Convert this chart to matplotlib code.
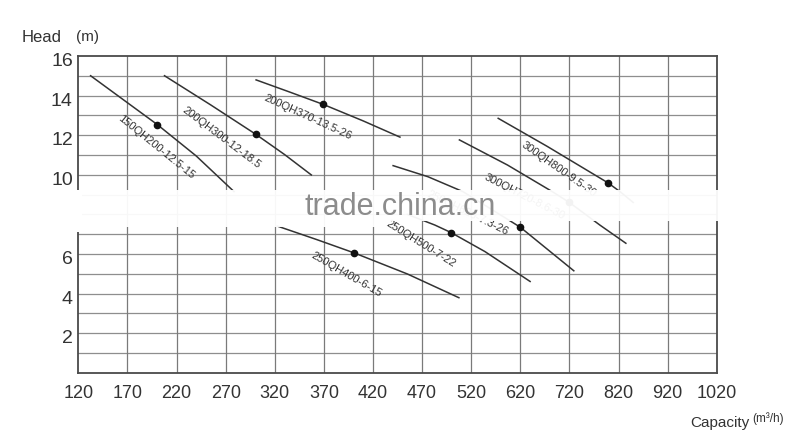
import numpy as np
import matplotlib.pyplot as plt
from matplotlib.patches import Rectangle
from matplotlib.transforms import ScaledTranslation

# capacity axis is drawn on an even spacing, one step per label
capacity_labels = ['120', '170', '220', '270', '320', '370', '420',
                   '470', '520', '620', '720', '820', '920', '1020']
head_ticks = [2, 4, 6, 8, 10, 12, 14, 16]

# pump curves: x = position on the capacity scale, h = head (m)
p150_x = [0.25, 1.61, 2.4, 3.17]
p150_h = [15.0, 12.53, 10.95, 9.15]
p200a_x = [1.755, 2.7, 3.61, 4.2, 4.745]
p200a_h = [15.0, 13.52, 12.05, 11.02, 9.99]
p200b_x = [3.62, 4.3, 4.99, 5.8, 6.55]
p200b_h = [14.79, 14.18, 13.55, 12.72, 11.9]
p250a_x = [4.05, 4.85, 5.62, 6.7, 7.75]
p250a_h = [7.41, 6.73, 6.05, 4.99, 3.79]
p250b_x = [6.7, 7.26, 7.59, 8.28, 9.2]
p250b_h = [8.0, 7.46, 7.08, 6.12, 4.61]
p250c_x = [6.41, 7.12, 7.83, 9.0, 10.09]
p250c_h = [10.46, 9.9, 9.15, 7.35, 5.15]
p300a_x = [7.76, 8.74, 9.65, 10.0, 10.62, 11.15]
p300a_h = [11.76, 10.49, 9.15, 8.6, 7.46, 6.54]
p300b_x = [8.55, 9.55, 10.78, 11.03, 11.3]
p300b_h = [12.85, 11.43, 9.6, 9.15, 8.6]

# rated points
dot_x = [1.61, 3.61, 4.99, 5.62, 7.59, 9.0, 10.0, 10.78]
dot_h = [12.53, 12.05, 13.55, 6.05, 7.08, 7.35, 8.6, 9.6]

curves = [(p150_x, p150_h), (p200a_x, p200a_h), (p200b_x, p200b_h),
          (p250a_x, p250a_h), (p250b_x, p250b_h), (p250c_x, p250c_h),
          (p300a_x, p300a_h), (p300b_x, p300b_h)]

# model labels: text, x, h, angle, alignment
labels = [
    ('150QH200-12.5-15', 1.58, 11.38, -39, 'center', 'center'),
    ('200QH300-12-18.5', 2.92, 11.86, -37, 'center', 'center'),
    ('200QH370-13.5-26', 4.67, 12.92, -24.5, 'center', 'center'),
    ('250QH400-6-15', 5.45, 4.94, -30, 'center', 'center'),
    ('250QH500-7-22', 6.98, 6.5, -32, 'center', 'center'),
    ('300QH800-9.5-30', 9.79, 10.29, -35, 'center', 'center'),
    ('300QH720-8.6-30', 8.33, 10.12, -27, 'left', 'top'),
    ('250QH620-7.3-26', 8.74, 7.07, -26, 'right', 'center'),
]

plt.rcParams['font.family'] = ['Liberation Sans', 'DejaVu Sans']

fig = plt.figure(figsize=(8, 4.37), dpi=100)
ax = fig.add_axes([0.0979, 0.147, 0.798, 0.725])

ax.set_xlim(0, len(capacity_labels) - 1)
ax.set_ylim(0, 16)

# grid
for h in range(1, 16):
    ax.axhline(h, color='#8e8e8e', lw=0.9, zorder=1)
for i in range(1, len(capacity_labels) - 1):
    ax.axvline(i, color='#7a7a7a', lw=0.9, zorder=1)

for cx, ch in curves:
    ax.plot(cx, ch, color='#333333', lw=1.1, zorder=3)
ax.plot(dot_x, dot_h, 'o', color='#111111', ms=4.5, zorder=4)

for txt, lx, lh, ang, ha, va in labels:
    ax.text(lx, lh, txt, rotation=ang, rotation_mode='anchor', ha=ha, va=va,
            fontsize=8, color='#333333', zorder=4)

for s in ax.spines.values():
    s.set_color('#4a4a4a')
    s.set_linewidth(1.3)

ax.set_xticks(range(len(capacity_labels)))
ax.set_xticklabels(capacity_labels, fontsize=13, color='#333333')
ax.set_yticks(head_ticks)
ax.set_yticklabels([str(v) for v in head_ticks], fontsize=14, color='#333333')
ax.tick_params(axis='x', length=0, pad=9)
ax.tick_params(axis='y', length=0, pad=4)
shift = ScaledTranslation(0, -0.035, fig.dpi_scale_trans)
for lab in ax.get_yticklabels():
    lab.set_transform(lab.get_transform() + shift)

fig.text(22 / 800, 1 - 37 / 437, 'Head', fontsize=12, va='center', color='#333333')
fig.text(76 / 800, 1 - 37 / 437, '(m)', fontsize=11, va='center', color='#333333')
fig.text(690 / 800, 1 - 423 / 437, 'Capacity', fontsize=11,
         va='center', color='#333333')
fig.text(752 / 800, 1 - 419 / 437, '(m³/h)', fontsize=8.5,
         va='center', color='#333333')

# watermark band across the middle (a bit deeper on the left)
fig.add_artist(Rectangle((0, 1 - 232 / 437), 82 / 800, 42 / 437,
                         transform=fig.transFigure,
                         facecolor='white', edgecolor='none', alpha=1.0))
fig.add_artist(Rectangle((82 / 800, 1 - 227 / 437), 298 / 800, 37 / 437,
                         transform=fig.transFigure,
                         facecolor='white', edgecolor='none', alpha=0.95))
fig.add_artist(Rectangle((380 / 800, 1 - 221 / 437), 345 / 800, 31 / 437,
                         transform=fig.transFigure,
                         facecolor='white', edgecolor='none', alpha=0.95))
fig.text(0.5, 0.526, 'trade.china.cn', fontsize=22, color='#8c8c8c',
         ha='center', va='center')

fig.savefig('out.png', dpi=100)
